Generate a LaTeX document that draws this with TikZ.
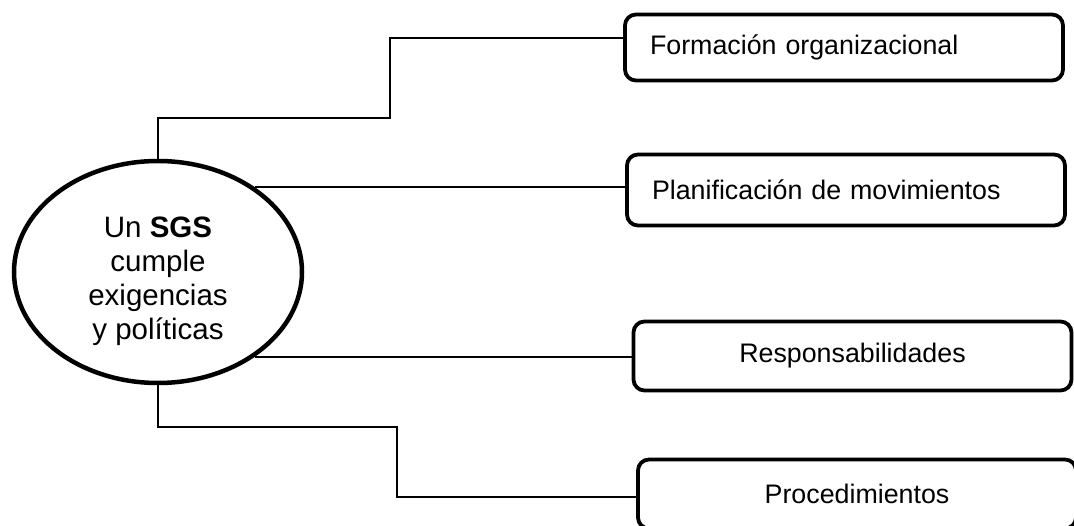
\documentclass[tikz,border=0pt]{standalone}
\usepackage{fontspec}
\setmainfont{Liberation Sans}
\usetikzlibrary{positioning, shapes.geometric}
\tikzset{
    x=1pt, y=-1pt,
    sgs_center/.style={
        ellipse,
        draw=black,
        line width=4.5pt,
        minimum width=288pt,
        minimum height=222pt,
        inner sep=0pt,
        align=center,
        font=\fontsize{29.5}{34}\selectfont
    },
    sgs_item/.style={
        rectangle,
        rounded corners=11pt,
        draw=black,
        line width=3.8pt,
        minimum width=438pt,
        text width=388pt,
        inner sep=0pt,
        font=\fontsize{26.8}{32}\selectfont
    },
    sgs_link/.style={
        line width=2pt
    }
}

\begin{document}
\begin{tikzpicture}
\useasboundingbox (0,0) rectangle (1074,526);

% --- Centro ---
\node[sgs_center] (Centro) at (158,272) {\rule{0pt}{39pt}Un \textbf{SGS}\\cumple\\exigencias\\y políticas};

% --- Cajas ---
\node[sgs_item, minimum height=66pt, align=left] (Formacion) at (844,47.5) {Formación organizacional};
\node[sgs_item, minimum height=71pt, align=left] (Planificacion) at (846,190) {Planificación de movimientos};
\node[sgs_item, minimum height=69pt, align=center] (Responsab) at (852.5,356) {Responsabilidades};
\node[sgs_item, minimum height=69pt, align=center] (Procedim) at (857,494) {Procedimientos};

% --- Codos ---
\coordinate (bendA) at (390,118);
\coordinate (bendB) at (397,427);

% --- Conectores ---
\draw[sgs_link] (Centro.north) |- (bendA) |- ([yshift=9.5pt]Formacion.west);
\draw[sgs_link] (Centro.41) -- (Centro.41 -| Planificacion.west);
\draw[sgs_link] (Centro.-41) -- (Centro.-41 -| Responsab.west);
\draw[sgs_link] (Centro.south) |- (bendB) |- ([yshift=-3pt]Procedim.west);

\end{tikzpicture}
\end{document}
